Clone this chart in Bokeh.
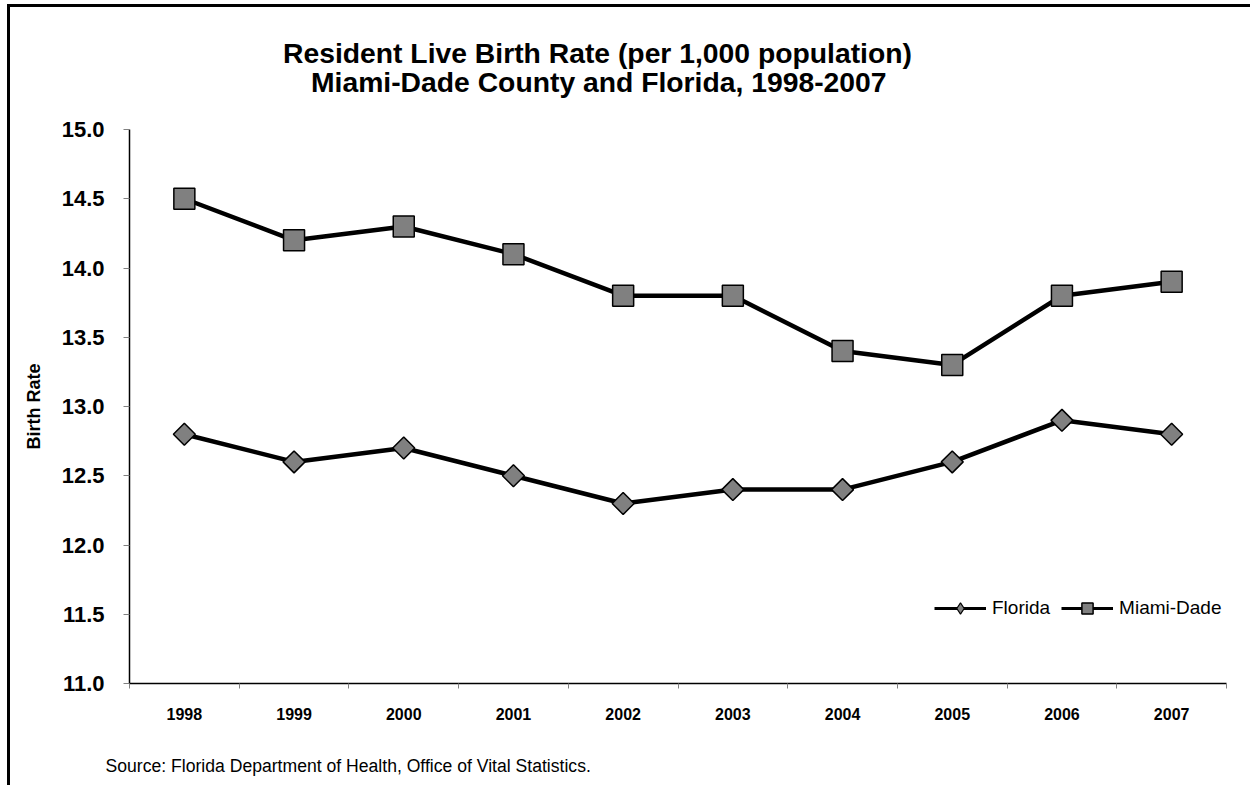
import math
from bokeh.plotting import figure
from bokeh.models import (Range1d, FixedTicker, NumeralTickFormatter, Title,
                          Legend, LegendItem)
from bokeh.embed import file_html
from bokeh.resources import INLINE

# ---- data ----
years = [1998, 1999, 2000, 2001, 2002, 2003, 2004, 2005, 2006, 2007]
florida = [12.8, 12.6, 12.7, 12.5, 12.3, 12.4, 12.4, 12.6, 12.9, 12.8]
miami_dade = [14.5, 14.2, 14.3, 14.1, 13.8, 13.8, 13.4, 13.3, 13.8, 13.9]
y_ticks = [11.0, 11.5, 12.0, 12.5, 13.0, 13.5, 14.0, 14.5, 15.0]
series_names = ["Florida", "Miami-Dade"]
title_line1 = "Resident Live Birth Rate (per 1,000 population)"
title_line2 = "Miami-Dade County and Florida, 1998-2007"
y_label = "Birth Rate"
source_note = "Source: Florida Department of Health, Office of Vital Statistics."

FONT = "Liberation Sans"

p = figure(frame_width=1097, frame_height=554,
           min_border_left=119, min_border_top=122,
           min_border_right=24, min_border_bottom=102,
           x_range=Range1d(years[0] - 0.5, years[-1] + 0.5),
           y_range=Range1d(y_ticks[0], y_ticks[-1]),
           output_backend="svg", toolbar_location=None)
p.title_location = None
p.outline_line_color = None
p.xgrid.visible = False
p.ygrid.visible = False
p.background_fill_color = "white"
p.border_fill_color = "white"
p.styles = {"border-top": "3px solid black", "border-left": "3px solid black",
            "margin-top": "4px", "margin-left": "7px"}

# x axis: labels at years, small grey ticks between categories
xa = p.xaxis[0]
xa.ticker = FixedTicker(ticks=years,
                        minor_ticks=[y - 0.5 for y in years] + [years[-1] + 0.5])
xa.major_label_overrides = {y: str(y) for y in years}
xa.major_tick_line_color = None
xa.major_tick_out = 0
xa.major_tick_in = 0
xa.minor_tick_line_color = "#808080"
xa.minor_tick_out = 5
xa.minor_tick_in = 0
xa.minor_tick_line_width = 1
xa.axis_line_color = "black"
xa.axis_line_width = 1.5
xa.major_label_text_font = FONT
xa.major_label_text_font_size = "16px"
xa.major_label_text_font_style = "bold"
xa.major_label_text_color = "black"
xa.major_label_standoff = 19

ya = p.yaxis[0]
ya.ticker = FixedTicker(ticks=y_ticks)
ya.formatter = NumeralTickFormatter(format="0.0")
ya.minor_tick_line_color = None
ya.major_tick_line_color = "#808080"
ya.major_tick_out = 6
ya.major_tick_in = 0
ya.axis_line_color = "black"
ya.axis_line_width = 1.5
ya.major_label_text_font = FONT
ya.major_label_text_font_size = "22px"
ya.major_label_text_font_style = "bold"
ya.major_label_text_color = "black"
ya.major_label_standoff = 19
ya.axis_label = y_label
ya.axis_label_text_font = FONT
ya.axis_label_text_font_size = "18px"
ya.axis_label_text_font_style = "bold"
ya.axis_label_text_color = "black"
ya.axis_label_standoff = 15

# series
fl_line = p.line(years, florida, line_width=4.5, line_color="black")
fl_pts = p.scatter(years, florida, marker="square", angle=math.pi / 4, size=15.5,
                   fill_color="#808080", line_color="black", line_width=1.5)
md_line = p.line(years, miami_dade, line_width=4.5, line_color="black")
md_pts = p.scatter(years, miami_dade, marker="square", size=21,
                   fill_color="#808080", line_color="black", line_width=1.5)

# legend-only renderers (hidden in the plot, drawn in the legend)
fl_leg_line = p.line(years, florida, line_width=3, line_color="black", visible=False)
fl_leg_pts = p.scatter(years, florida, marker="diamond", size=12,
                       fill_color="#808080", line_color="black", line_width=1.2,
                       visible=False)
md_leg_line = p.line(years, miami_dade, line_width=3, line_color="black", visible=False)
md_leg_pts = p.scatter(years, miami_dade, marker="square", size=12,
                       fill_color="#808080", line_color="black", line_width=1.5,
                       visible=False)

legend = Legend(items=[LegendItem(label=series_names[0], renderers=[fl_leg_line, fl_leg_pts]),
                       LegendItem(label=series_names[1], renderers=[md_leg_line, md_leg_pts])],
                orientation="horizontal", location=(805, 61),
                border_line_color=None, background_fill_alpha=0,
                inactive_fill_alpha=0,
                padding=0, margin=0, spacing=11, label_standoff=6,
                glyph_width=52, glyph_height=28, label_height=20,
                label_text_font=FONT, label_text_font_size="19px",
                label_text_color="black")
p.add_layout(legend)

# titles (an empty spacer panel sits between the frame and the two title lines)
p.add_layout(Title(text=" ", text_font=FONT, text_font_size="28.3px",
                   text_font_style="bold", standoff=-2.5), "above")
p.add_layout(Title(text=title_line2, text_font=FONT, text_font_size="28.3px",
                   text_font_style="bold", align="left", offset=181.5, standoff=0,
                   text_color="black"), "above")
p.add_layout(Title(text=title_line1, text_font=FONT, text_font_size="28.3px",
                   text_font_style="bold", align="left", offset=153.5, standoff=-11,
                   text_color="black"), "above")

# source note (spacer panel below the axis, then the note)
p.add_layout(Title(text=" ", text_font=FONT, text_font_size="17.6px",
                   text_font_style="normal", standoff=9), "below")
p.add_layout(Title(text=source_note, text_font=FONT, text_font_size="17.6px",
                   text_font_style="normal", align="left", offset=-24, standoff=0,
                   text_color="black"), "below")

open("out.html", "w").write(file_html(p, INLINE))
